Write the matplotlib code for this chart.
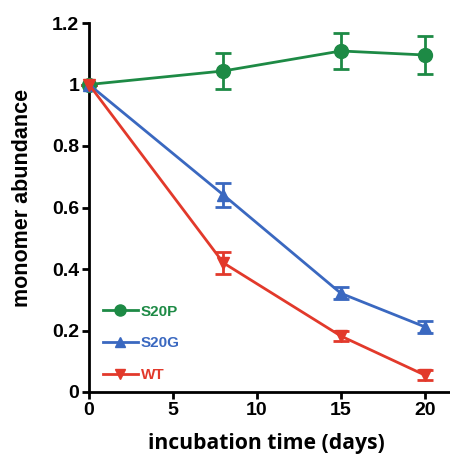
import matplotlib
matplotlib.use('Agg')
import matplotlib.pyplot as plt
from matplotlib.lines import Line2D

days = [0, 8, 15, 20]

s20p = [1.0, 1.044, 1.109, 1.096]
s20p_err = [0.0, 0.06, 0.06, 0.063]

s20g = [1.0, 0.641, 0.321, 0.212]
s20g_err = [0.0, 0.04, 0.02, 0.02]

wt = [1.0, 0.42, 0.182, 0.055]
wt_err = [0.0, 0.035, 0.015, 0.015]

labels = ['S20P', 'S20G', 'WT']
colors = ['#1d8a45', '#3a68c0', '#e2392b']
markers = ['o', '^', 'v']

plt.rcParams['font.family'] = ['Liberation Sans', 'DejaVu Sans']
plt.rcParams['font.weight'] = 'bold'

fig = plt.figure(figsize=(4.5, 4.54), dpi=100)
ax = fig.add_axes([89/450, 1 - 392/454, (450 - 89)/450, (392 - 23)/454])

series = [(s20p, s20p_err), (s20g, s20g_err), (wt, wt_err)]
for (vals, errs), c, m in zip(series, colors, markers):
    ax.errorbar(days, vals, yerr=errs, color=c, marker=m, markersize=10 if m == 'o' else 9,
                linewidth=2, elinewidth=2, capsize=6, capthick=2, clip_on=False, zorder=3)

ax.set_xlim(0, 21.5)
ax.set_ylim(0, 1.2)
ax.set_xticks([0, 5, 10, 15, 20])
ax.set_yticks([0, 0.2, 0.4, 0.6, 0.8, 1.0, 1.2])
ax.set_yticklabels(['0', '0.2', '0.4', '0.6', '0.8', '1', '1.2'])

for side in ['top', 'right']:
    ax.spines[side].set_visible(False)
for side in ['left', 'bottom']:
    ax.spines[side].set_linewidth(2)
ax.tick_params(direction='out', length=5, width=2, labelsize=14, pad=2)
for t in ax.get_xticklabels() + ax.get_yticklabels():
    t.set_fontweight('bold')

ax.set_xlabel('incubation time (days)', fontsize=15.2, fontweight='bold',
              family=['Open Sans', 'DejaVu Sans'])
ax.xaxis.set_label_coords(0.49, -0.11)
ax.set_ylabel('monomer abundance', fontsize=15.5, fontweight='bold')
ax.yaxis.set_label_coords(-0.155, 0.525)

handles = [Line2D([], [], color=c, marker=m, markersize=8 if m == 'o' else 7.5, linewidth=2)
           for c, m in zip(colors, markers)]
leg = ax.legend(handles, labels, loc='lower left', bbox_to_anchor=(0.0, -0.01), frameon=False,
                fontsize=11, handlelength=2.3, handletextpad=0.2, labelspacing=1.15)
for txt, c in zip(leg.get_texts(), colors):
    txt.set_color(c)
    txt.set_fontweight('bold')

fig.savefig('out.png', dpi=100)
